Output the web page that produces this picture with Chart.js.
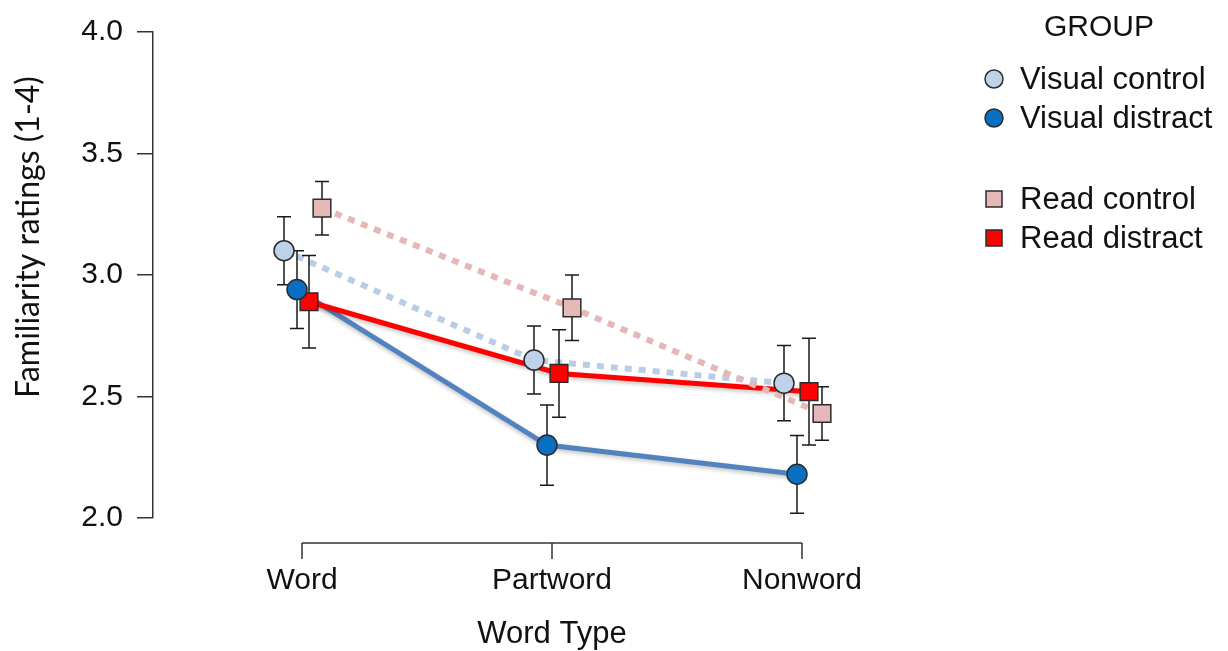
<!DOCTYPE html>
<html>
<head>
<meta charset="utf-8">
<script src="https://cdn.jsdelivr.net/npm/chart.js@4.4.1/dist/chart.umd.min.js"></script>
<style>
  html, body { margin: 0; padding: 0; background: #fff; }
  #wrap { position: relative; width: 1228px; height: 651px; }
</style>
</head>
<body>
<div id="wrap"><canvas id="c" width="1228" height="651"></canvas></div>
<script>
// ---- data ----
const categories = ["Word", "Partword", "Nonword"];
const seriesNames = ["Visual control", "Visual distract", "Read control", "Read distract"];
const visualControl  = [3.10, 2.65, 2.555];
const visualDistract = [2.94, 2.30, 2.18];
const readControl    = [3.275, 2.865, 2.43];
const readDistract   = [2.89, 2.595, 2.52];
const visualControlSE  = [0.14, 0.14, 0.155];
const visualDistractSE = [0.16, 0.165, 0.16];
const readControlSE    = [0.11, 0.135, 0.11];
const readDistractSE   = [0.19, 0.18, 0.22];
const yTicks = [2.0, 2.5, 3.0, 3.5, 4.0];

const FONT = "'Liberation Sans', Arial, sans-serif";

const series = [
  { name: seriesNames[0], values: visualControl, se: visualControlSE, dodge: -0.072,
    line: '#b9cde6', fill: '#bfd2ea', style: 'circle', dash: [7, 7], width: 6 },
  { name: seriesNames[1], values: visualDistract, se: visualDistractSE, dodge: -0.02,
    line: '#5283bf', fill: '#0a6fc0', style: 'circle', dash: [], width: 5 },
  { name: seriesNames[2], values: readControl, se: readControlSE, dodge: 0.08,
    line: '#e5b7b6', fill: '#e6b9b8', style: 'rect', dash: [7, 7], width: 6 },
  { name: seriesNames[3], values: readDistract, se: readDistractSE, dodge: 0.028,
    line: '#ff0000', fill: '#ff0000', style: 'rect', dash: [], width: 5 }
];

function pts(s) { return s.values.map((v, i) => ({ x: i + s.dodge, y: v })); }

// line datasets (drawn beneath), then marker datasets (on top)
const drawOrderLines = [2, 0, 3, 1]; // controls (dotted) above distract
const datasets = [];
series.forEach((s, k) => {
  datasets.push({
    label: s.name, kind: 'line', data: pts(s), showLine: true,
    borderColor: s.line, borderWidth: s.width, borderDash: s.dash,
    borderCapStyle: 'butt', pointRadius: 0, pointHoverRadius: 0,
    tension: 0, clip: false, order: 10 + drawOrderLines.indexOf(k)
  });
});
series.forEach((s, k) => {
  datasets.push({
    label: s.name, kind: 'marker', data: pts(s), showLine: false,
    pointStyle: s.style, pointRadius: s.style === 'circle' ? 10 : 12.5,
    pointBackgroundColor: s.fill, pointBorderColor: '#2b2b2b', pointBorderWidth: 1.5,
    pointHoverRadius: 0, clip: false, order: 1
  });
});

function drawErrorBars(chart) {
  const ctx = chart.ctx, xs = chart.scales.x, ys = chart.scales.y;
  ctx.save();
  ctx.strokeStyle = '#1a1a1a';
  ctx.lineWidth = 1.5;
  series.forEach(s => {
    s.values.forEach((v, i) => {
      const x = xs.getPixelForValue(i + s.dodge);
      const y1 = ys.getPixelForValue(v + s.se[i]);
      const y2 = ys.getPixelForValue(v - s.se[i]);
      ctx.beginPath();
      ctx.moveTo(x, y1); ctx.lineTo(x, y2);
      ctx.moveTo(x - 7, y1); ctx.lineTo(x + 7, y1);
      ctx.moveTo(x - 7, y2); ctx.lineTo(x + 7, y2);
      ctx.stroke();
    });
  });
  ctx.restore();
}

let lineCount = 0;
const customPlugin = {
  id: 'custom',
  beforeDatasetsDraw() { lineCount = 0; },
  beforeDatasetDraw(chart, args) {
    const ds = chart.data.datasets[args.index];
    if (ds.kind === 'line' && ds.borderDash.length === 0) {
      chart.ctx.save();
      chart.ctx.shadowColor = 'rgba(0,0,0,0.25)';
      chart.ctx.shadowBlur = 4;
      chart.ctx.shadowOffsetY = 2;
      ds._shadow = true;
    }
  },
  afterDatasetDraw(chart, args) {
    const ds = chart.data.datasets[args.index];
    if (ds._shadow) { chart.ctx.restore(); ds._shadow = false; }
    if (ds.kind === 'line') {
      lineCount++;
      if (lineCount === 4) drawErrorBars(chart);
    }
  },
  afterDraw(chart) {
    const ctx = chart.ctx, xs = chart.scales.x, ca = chart.chartArea;
    ctx.save();
    // x axis (offset below plot area)
    const y0 = ca.bottom + 25;
    ctx.strokeStyle = '#333';
    ctx.lineWidth = 1.5;
    ctx.beginPath();
    const xa = xs.getPixelForValue(0), xb = xs.getPixelForValue(categories.length - 1);
    ctx.moveTo(xa, y0); ctx.lineTo(xb, y0);
    categories.forEach((c, i) => {
      const x = xs.getPixelForValue(i);
      ctx.moveTo(x, y0); ctx.lineTo(x, y0 + 16);
    });
    ctx.stroke();
    // x title, centred under the axis line
    ctx.fillStyle = '#111';
    ctx.font = '31px ' + FONT;
    ctx.textAlign = 'center';
    ctx.textBaseline = 'middle';
    ctx.fillText('Word Type', (xa + xb) / 2, 634);
    // y title
    ctx.font = "32px Lato, 'Open Sans', sans-serif";
    ctx.translate(29, 237);
    ctx.rotate(-Math.PI / 2);
    ctx.fillText('Familiarity ratings (1-4)', 0, 0);
    ctx.restore();
    // legend
    ctx.save();
    ctx.fillStyle = '#111';
    ctx.font = '30px ' + FONT;
    ctx.textAlign = 'center';
    ctx.textBaseline = 'middle';
    ctx.fillText('GROUP', 1099, 28);
    ctx.font = '31px ' + FONT;
    ctx.textAlign = 'left';
    const rows = [79, 118, 199, 238];
    const legendOrder = [0, 1, 2, 3];
    legendOrder.forEach((k, r) => {
      const s = series[k], y = rows[r];
      ctx.fillStyle = s.fill;
      ctx.strokeStyle = '#2b2b2b';
      ctx.lineWidth = 1.5;
      ctx.beginPath();
      if (s.style === 'circle') ctx.arc(994, y, 9, 0, Math.PI * 2);
      else ctx.rect(994 - 8, y - 8, 16, 16);
      ctx.fill(); ctx.stroke();
      ctx.fillStyle = '#111';
      ctx.fillText(s.name, 1020, y + 1);
    });
    ctx.restore();
  }
};

new Chart(document.getElementById('c'), {
  type: 'scatter',
  data: { datasets },
  plugins: [customPlugin],
  options: {
    responsive: false,
    animation: false,
    events: [],
    layout: { padding: { top: 28, right: 390, left: 0, bottom: 0 } },
    plugins: { legend: { display: false }, tooltip: { enabled: false } },
    scales: {
      x: {
        type: 'linear',
        min: -0.596, max: 2.144,
        afterBuildTicks(scale) { scale.ticks = categories.map((c, i) => ({ value: i })); },
        afterFit(scale) { scale.height = 133; },
        grid: { display: false, drawTicks: false },
        border: { display: false },
        ticks: {
          padding: 45,
          color: '#111',
          font: { family: FONT, size: 30 },
          callback: (v) => categories[Math.round(v)]
        }
      },
      y: {
        min: 2, max: 4,
        afterBuildTicks(scale) { scale.ticks = yTicks.map(v => ({ value: v })); },
        afterFit(scale) { scale.width = 153; },
        grid: { drawOnChartArea: false, drawTicks: true, tickLength: 16, color: '#333', lineWidth: 1.5 },
        border: { display: true, color: '#333', width: 1.5 },
        ticks: {
          padding: 14, color: '#111',
          font: { family: FONT, size: 30 },
          callback: (v) => v.toFixed(1)
        }
      }
    }
  }
});
</script>
</body>
</html>
